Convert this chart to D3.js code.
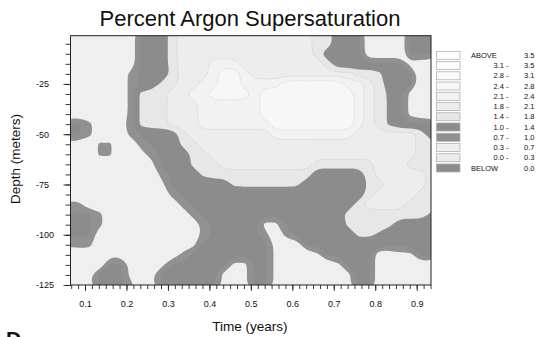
<!DOCTYPE html>
<html><head><meta charset="utf-8">
<script src="https://cdn.jsdelivr.net/npm/d3@7"></script>
<style>
html,body{margin:0;padding:0;background:#fff;}
svg{display:block;font-family:"Liberation Sans",Arial,Helvetica,sans-serif;}
</style></head><body>
<svg id="chart" width="549" height="337"></svg>
<script>
// Gridded argon supersaturation (%): columns every 0.025 yr from 0.06, rows every 5 m from 0 m down.
const timeStart = 0.06, timeStep = 0.025;
const depthStep = 5;

// Codes used in the grid rows and the value each stands for
const codeKeys   = ['.',  ',',  'z',  'x', '#',  'y', 'h', 'a',  'b',  'c',  'd'];
const codeValues = [0.45, 0.6, 0.75, 0.8, 1.05, 1.3, 1.5, 1.65, 1.95, 2.25, 2.6];

const gridRows = [
  ".......###abbbbbbbbbbbbbaa###....###",
  ".......###abbbbbbbbbbbbbaa###....###",
  ".......###abbbbbbbbbbbbba####....###",
  ".......###abbbcccbbbbbbbba#######,..",
  "......x###hbbbcddcbbbbbbbbbbaah###..",
  "......x##habbccddccccddddddccba###..",
  "......xhaabbccddddcdddddddddcbay#,..",
  "......xhaabbbccccccdddddddddcbay#,..",
  "......xhaabbbccccccdddddddddcbay#,..",
  "##x..,xhaabbbcccccccddddddddcbay####",
  "##x...x####abbbbbbbbccccccccbbbbbba#",
  ",..zz..x###habbbbbbbbbbbbbbbbbbbbbaa",
  "...zz..,x###habbbbbbbbbbbbbbbbbbbbaa",
  "........,###haabbbbbbbbbaaaaaabbbaaa",
  ".........x###haaaaaaaaaa#####abbbbba",
  ".........,######hhhhhhh######habbbba",
  "..........x##################abbbbaa",
  "xx.........x################abbbbaaa",
  "###x........x##############aaaaaaaay",
  "###x.........x#####,,######haaah####",
  "###..........x#####x.x######hhy#####",
  "xxx.........,#######,..#############",
  "....,,.....x########,...,#####..,,##",
  "....##,..,######,,##,.....,###......",
  "..,###,.,######,.,##,......,##......",
  "..,###x.,######,.,##,......,##......"
];

// Contour class limits and their fills (lowest class first: BELOW, 0.0-0.3, ... ABOVE)
const levelThresholds = [0.0, 0.3, 0.7, 1.0, 1.4, 1.8, 2.1, 2.4, 2.8, 3.1, 3.5];
const bandColors = ['#8d8d8d', '#ebebeb', '#efefef', '#919191', '#8c8c8c', '#e7e7e7',
                    '#ededed', '#f2f2f2', '#f7f7f7', '#fafafa', '#fcfcfc', '#fdfdfd'];
const lineLevels = [1.8, 2.1, 2.4, 2.8];

// Legend text, top to bottom
const legendLow  = ['ABOVE', '3.1 -', '2.8 -', '2.4 -', '2.1 -', '1.8 -', '1.4 -', '1.0 -', '0.7 -', '0.3 -', '0.0 -', 'BELOW'];
const legendHigh = ['3.5', '3.5', '3.1', '2.8', '2.4', '2.1', '1.8', '1.4', '1.0', '0.7', '0.3', '0.0'];

// Axis ticks
const xTickLabels = [0.1, 0.2, 0.3, 0.4, 0.5, 0.6, 0.7, 0.8, 0.9];
const yTickLabels = [-25, -50, -75, -100, -125];

const svg = d3.select('#chart');
const plot = {left: 70.5, right: 431, top: 35.7, bottom: 285};

const x = d3.scaleLinear().domain([0.065, 0.9345]).range([plot.left, plot.right]);
const y = d3.scaleLinear().domain([-125, -1]).range([plot.bottom, plot.top]);

// grid values
const valueOf = Object.fromEntries(codeKeys.map((k, i) => [k, codeValues[i]]));
const nx = gridRows[0].length, ny = gridRows.length;
const values = [];
gridRows.forEach(row => { for (const ch of row) values.push(valueOf[ch]); });

const contourGen = d3.contours().size([nx, ny]);
const bands = contourGen.thresholds(levelThresholds)(values);
const lines = contourGen.thresholds(lineLevels)(values);

// grid sample i sits at contour coordinate i + 0.5
const gx2px = gx => x(timeStart + timeStep * (gx - 0.5));
const gy2px = gy => y(-depthStep * (gy - 0.5));

// each ring is drawn as a smooth closed B-spline over the contour vertices
const ringLine = d3.line().curve(d3.curveBasisClosed);
function contourPath(geom) {
  return geom.coordinates.map(poly =>
    poly.map(ring => ringLine(ring.slice(0, -1).map(([gx, gy]) => [gx2px(gx), gy2px(gy)]))).join('')
  ).join('');
}

svg.append('defs').append('clipPath').attr('id', 'plotClip')
  .append('rect')
  .attr('x', plot.left).attr('y', plot.top)
  .attr('width', plot.right - plot.left).attr('height', plot.bottom - plot.top);

const field = svg.append('g').attr('clip-path', 'url(#plotClip)');
field.append('rect')
  .attr('x', plot.left).attr('y', plot.top)
  .attr('width', plot.right - plot.left).attr('height', plot.bottom - plot.top)
  .attr('fill', bandColors[0]);

field.selectAll('path.band').data(bands).join('path')
  .attr('class', 'band')
  .attr('d', contourPath)
  .attr('fill-rule', 'evenodd')
  .attr('fill', (d, i) => bandColors[i + 1])
  .attr('stroke', 'none');

field.selectAll('path.iso').data(lines).join('path')
  .attr('class', 'iso')
  .attr('d', contourPath)
  .attr('fill', 'none')
  .attr('stroke', '#b4b4b4')
  .attr('stroke-width', 0.6)
  .attr('stroke-dasharray', '1,1.6');

// frame
svg.append('rect')
  .attr('x', plot.left).attr('y', plot.top)
  .attr('width', plot.right - plot.left).attr('height', plot.bottom - plot.top)
  .attr('fill', 'none').attr('stroke', '#222').attr('stroke-width', 1);

// x axis: minor ticks every 1/60 yr, labelled majors every 0.1
const xMinor = d3.range(Math.ceil(x.domain()[0] * 60), Math.floor(x.domain()[1] * 60) + 1).map(i => i / 60);
const xAxisMinor = svg.append('g').attr('transform', `translate(0,${plot.bottom})`)
  .call(d3.axisBottom(x).tickValues(xMinor).tickSize(4).tickFormat(''));
const xAxisMajor = svg.append('g').attr('transform', `translate(0,${plot.bottom})`)
  .call(d3.axisBottom(x).tickValues(xTickLabels).tickSize(6).tickPadding(9.5).tickFormat(d3.format('.1f')));

// y axis: minor ticks every 5 m, labelled majors every 25 m
const yMinor = d3.range(-125, -1, 5);
const yAxisMinor = svg.append('g').attr('transform', `translate(${plot.left},0)`)
  .call(d3.axisLeft(y).tickValues(yMinor).tickSize(5).tickFormat(''));
const yAxisMajor = svg.append('g').attr('transform', `translate(${plot.left},0)`)
  .call(d3.axisLeft(y).tickValues(yTickLabels).tickSize(7).tickFormat(d => String(d)));

[xAxisMinor, xAxisMajor, yAxisMinor, yAxisMajor].forEach(g => {
  g.select('.domain').remove();
  g.selectAll('line').attr('stroke', '#222').attr('stroke-width', 0.9);
  g.selectAll('text').attr('fill', '#111').style('font-size', '9px')
    .style('font-family', '"Liberation Sans", Arial, sans-serif');
});
yAxisMajor.selectAll('text').attr('text-anchor', 'start').attr('x', 36 - plot.left);

// titles
svg.append('text')
  .attr('x', 250).attr('y', 26)
  .attr('text-anchor', 'middle')
  .style('font-size', '22px').attr('fill', '#111')
  .text('Percent Argon Supersaturation');

svg.append('text')
  .attr('x', 250).attr('y', 331)
  .attr('text-anchor', 'middle')
  .style('font-size', '13.5px').attr('fill', '#111')
  .text('Time (years)');

svg.append('text')
  .attr('transform', 'translate(19.5,159) rotate(-90)')
  .attr('text-anchor', 'middle')
  .style('font-size', '13.5px').attr('fill', '#111')
  .text('Depth (meters)');

svg.append('text')
  .attr('x', 6).attr('y', 346)
  .style('font-size', '21px').style('font-weight', 'bold').attr('fill', '#111')
  .text('D');

// legend
const ly = d3.scalePoint().domain(d3.range(legendLow.length)).range([55.3, 168]);
const legend = svg.append('g');
legendLow.forEach((lab, i) => {
  const cy = ly(i);
  legend.append('rect')
    .attr('x', 436.5).attr('y', cy - 4).attr('width', 23.5).attr('height', 8)
    .attr('fill', bandColors[bandColors.length - 1 - i])
    .attr('stroke', '#a8a8a8').attr('stroke-width', 0.7);
  const isRange = lab.endsWith('-');
  legend.append('text')
    .attr('x', isRange ? 508.5 : 471).attr('y', cy).attr('dy', '0.35em')
    .attr('text-anchor', isRange ? 'end' : 'start')
    .style('font-size', '7.5px').attr('fill', '#111')
    .text(lab);
  legend.append('text')
    .attr('x', 524).attr('y', cy).attr('dy', '0.35em')
    .style('font-size', '7.5px').attr('fill', '#111')
    .text(legendHigh[i]);
});
</script>
</body></html>
